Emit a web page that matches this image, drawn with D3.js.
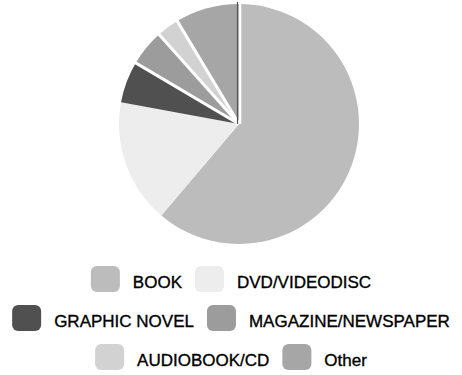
<!DOCTYPE html>
<html>
<head>
<meta charset="utf-8">
<script src="https://cdn.jsdelivr.net/npm/d3@7"></script>
<style>
  html, body { margin: 0; padding: 0; background: #ffffff; }
  svg { display: block; }
</style>
</head>
<body>
<svg id="chart" width="462" height="375"></svg>
<script>
// ---- data ----
const categories = ["BOOK", "DVD/VIDEODISC", "GRAPHIC NOVEL", "MAGAZINE/NEWSPAPER", "AUDIOBOOK/CD", "Other"];
const shares = [61.2, 16.7, 5.6, 4.9, 3.0, 8.6];
const legendRows = [[0, 1], [2, 3], [4, 5]];
const fills = ["#bcbcbc", "#ededed", "#505050", "#9c9c9c", "#d2d2d2", "#a6a6a6"];

const svg = d3.select("#chart");
const cx = 239, cy = 124, R = 120;

const data = categories.map((c, i) => ({ cat: c, value: shares[i], fill: fills[i] }));
const pie = d3.pie().sort(null).value(d => d.value).startAngle(0).endAngle(2 * Math.PI);
const arcs = pie(data);
const arc = d3.arc().innerRadius(0).outerRadius(R);

const g = svg.append("g").attr("transform", `translate(${cx},${cy})`);
g.selectAll("path.slice").data(arcs).enter().append("path")
  .attr("class", "slice")
  .attr("d", arc)
  .attr("fill", d => d.data.fill);

// separators between the small slices (white gaps)
const pt = (a, r) => [r * Math.sin(a), -r * Math.cos(a)];
[3, 4, 5].forEach(i => {
  const a = arcs[i].startAngle;
  const p = pt(a, R + 2);
  g.append("line").attr("x1", 0).attr("y1", 0).attr("x2", p[0]).attr("y2", p[1])
    .attr("stroke", "#ffffff").attr("stroke-width", 3);
});
// boundary between Other and BOOK: dark edge then white gap
{
  const a = arcs[5].endAngle;
  const p = pt(a, R + 2);
  g.append("line").attr("x1", 1).attr("y1", 0).attr("x2", p[0] + 1).attr("y2", p[1])
    .attr("stroke", "#ffffff").attr("stroke-width", 2.5);
  g.append("line").attr("x1", -1.5).attr("y1", 0).attr("x2", p[0] - 1.5).attr("y2", p[1])
    .attr("stroke", "#555555").attr("stroke-width", 1.2);
}

// ---- legend ----
const sw = 29, sh = 26, gapText = 13, gapItem = 13;
const rowY = [279, 318, 357];
const legendCx = 231;

legendRows.forEach((row, ri) => {
  const rg = svg.append("g");
  let x = 0;
  row.forEach((idx, k) => {
    if (k > 0) x += gapItem;
    rg.append("rect").attr("x", x).attr("y", rowY[ri] - sh / 2)
      .attr("width", sw).attr("height", sh).attr("rx", 6).attr("ry", 6)
      .attr("fill", fills[idx]);
    x += sw + gapText;
    const t = rg.append("text").attr("x", x).attr("y", rowY[ri] + 9)
      .attr("font-family", "'Liberation Sans', Arial, sans-serif")
      .attr("font-size", 17)
      .attr("fill", "#000000")
      .attr("stroke", "#000000").attr("stroke-width", 0.35)
      .text(categories[idx]);
    x += t.node().getComputedTextLength();
  });
  rg.attr("transform", `translate(${legendCx - x / 2},0)`);
});
</script>
</body>
</html>
